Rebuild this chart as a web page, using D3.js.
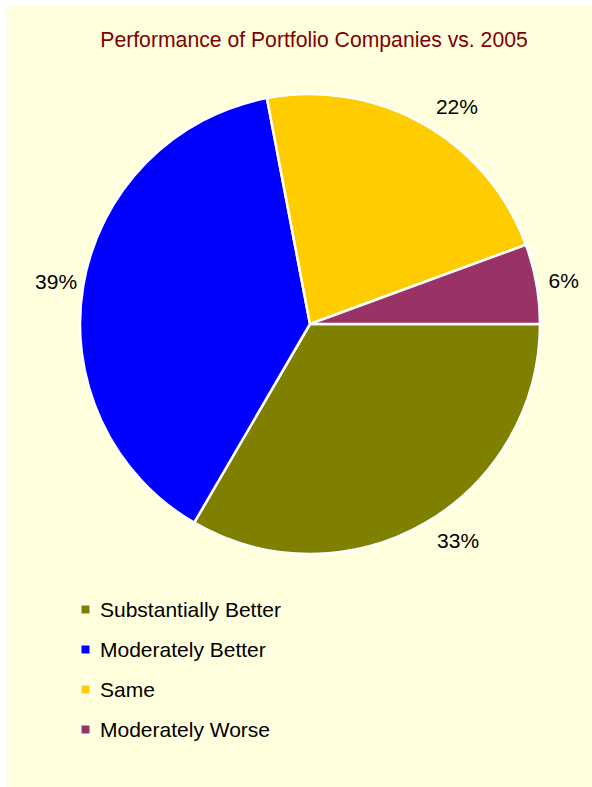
<!DOCTYPE html>
<html>
<head>
<meta charset="utf-8">
<script src="https://cdn.jsdelivr.net/npm/d3@7"></script>
<style>
  html, body { margin: 0; padding: 0; background: #ffffff; }
  svg { display: block; }
  text { font-family: "Liberation Sans", Arial, sans-serif; }
</style>
</head>
<body>
<script>
const title = "Performance of Portfolio Companies vs. 2005";
const categories = ["Substantially Better", "Moderately Better", "Same", "Moderately Worse"];
const values = [33.4, 38.6, 22.4, 5.6];
const labels = ["33%", "39%", "22%", "6%"];
const colors = ["#808000", "#0000FF", "#FFCC00", "#993366"];

const W = 592, H = 787;
const svg = d3.select("body").append("svg").attr("width", W).attr("height", H);

svg.append("rect").attr("x", 7).attr("y", 6).attr("width", W - 7).attr("height", H - 6)
  .attr("fill", "#FFFFDD");

svg.append("text").attr("x", 314).attr("y", 47).attr("text-anchor", "middle")
  .attr("font-size", 21.2).attr("fill", "#800000").text(title);

const cx = 310, cy = 324, R = 230;
const data = categories.map((c, i) => ({ name: c, value: values[i], label: labels[i], color: colors[i] }));

const pie = d3.pie().value(d => d.value).sort(null)
  .startAngle(Math.PI / 2).endAngle(Math.PI / 2 + 2 * Math.PI);
const arcs = pie(data);
const arc = d3.arc().innerRadius(0).outerRadius(R);

const g = svg.append("g").attr("transform", `translate(${cx},${cy})`);
g.selectAll("path").data(arcs).join("path")
  .attr("d", arc).attr("fill", d => d.data.color)
  .attr("stroke", "#ffffff").attr("stroke-width", 2.5).attr("stroke-linejoin", "round");

// label placement outside the pie (outside-end style)
function labelPos(d) {
  const a = (d.startAngle + d.endAngle) / 2; // d3 angle: 0 at 12 o'clock, clockwise
  const sx = Math.sin(a), cy_ = -Math.cos(a);
  const x = 217 * sx + 40 * Math.sign(sx);
  const y = 250 * cy_;
  return [x, y];
}
g.selectAll("text.lbl").data(arcs).join("text").attr("class", "lbl")
  .attr("transform", d => `translate(${labelPos(d)})`)
  .attr("text-anchor", "middle").attr("dy", "0.36em")
  .attr("font-size", 21).attr("fill", "#000").text(d => d.data.label);

const leg = svg.append("g");
const rows = leg.selectAll("g").data(data).join("g")
  .attr("transform", (d, i) => `translate(0,${617 + i * 40})`);
rows.append("rect").attr("x", 81).attr("y", -12).attr("width", 9).attr("height", 9)
  .attr("fill", d => d.color).attr("stroke", "#ffffff").attr("stroke-width", 1);
rows.append("text").attr("x", 100).attr("y", 0).attr("font-size", 21)
  .attr("fill", "#000").text(d => d.name);
</script>
</body>
</html>
